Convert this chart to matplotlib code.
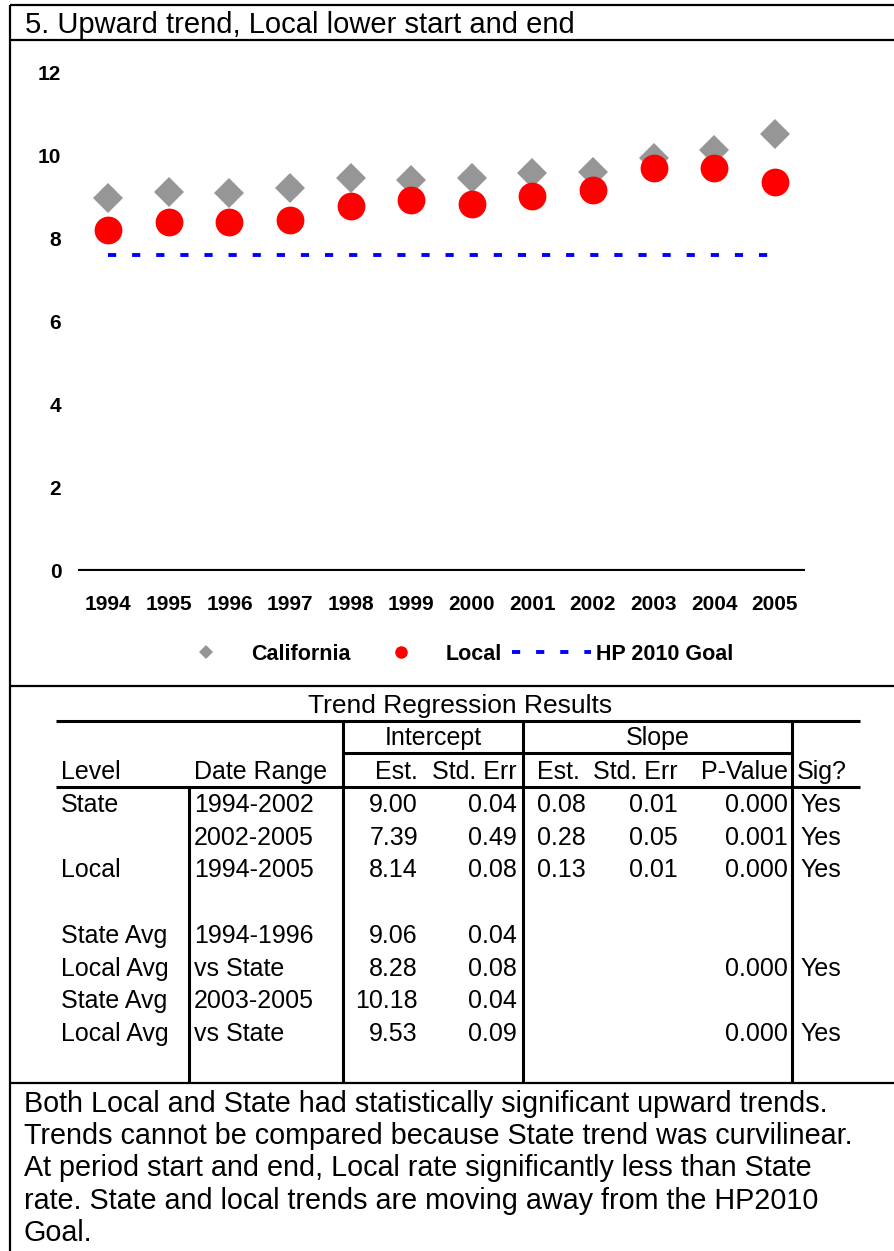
import matplotlib
matplotlib.use("Agg")
import matplotlib.pyplot as plt
from matplotlib.lines import Line2D

plt.rcParams['font.family'] = ['Liberation Sans', 'DejaVu Sans']

# chart data
years = ["1994", "1995", "1996", "1997", "1998", "1999",
         "2000", "2001", "2002", "2003", "2004", "2005"]
california = [8.97, 9.12, 9.08, 9.21, 9.46, 9.40, 9.46, 9.56, 9.60, 9.92, 10.12, 10.52]
local = [8.20, 8.40, 8.40, 8.44, 8.78, 8.92, 8.83, 9.01, 9.17, 9.70, 9.70, 9.36]
hp_goal = 7.6
y_ticks = [0, 2, 4, 6, 8, 10, 12]

# table data
level = ["State", "", "Local", "State Avg", "Local Avg", "State Avg", "Local Avg"]
date_range = ["1994-2002", "2002-2005", "1994-2005", "1994-1996", "vs State", "2003-2005", "vs State"]
int_est = ["9.00", "7.39", "8.14", "9.06", "8.28", "10.18", "9.53"]
int_se = ["0.04", "0.49", "0.08", "0.04", "0.08", "0.04", "0.09"]
slope_est = ["0.08", "0.28", "0.13", "", "", "", ""]
slope_se = ["0.01", "0.05", "0.01", "", "", "", ""]
p_value = ["0.000", "0.001", "0.000", "", "0.000", "", "0.000"]
sig = ["Yes", "Yes", "Yes", "", "Yes", "", "Yes"]

title = "5. Upward trend, Local lower start and end"
summary = ["Both Local and State had statistically significant upward trends.",
           "Trends cannot be compared because State trend was curvilinear.",
           "At period start and end, Local rate significantly less than State",
           "rate. State and local trends are moving away from the HP2010",
           "Goal."]

W, H = 895, 1251
fig = plt.figure(figsize=(W / 100, H / 100), dpi=100)


def fx(x):
    return x / W


def fy(y):
    return 1 - y / H


def hline(y, x0, x1, lw=2.2):
    fig.add_artist(Line2D([fx(x0), fx(x1)], [fy(y), fy(y)], color="black",
                          lw=lw, transform=fig.transFigure, solid_capstyle="butt"))


def vline(x, y0, y1, lw=2.2):
    fig.add_artist(Line2D([fx(x), fx(x)], [fy(y0), fy(y1)], color="black",
                          lw=lw, transform=fig.transFigure, solid_capstyle="butt"))


def text(x, y, s, size=18, ha="left", weight="normal"):
    fig.text(fx(x), fy(y), s, fontsize=size, ha=ha, va="baseline", fontweight=weight)


# frame and section separators
hline(5, 10, W, lw=1.6)
vline(10, 5, H, lw=1.6)
hline(40, 10, W, lw=1.6)
hline(686, 10, W, lw=1.6)
hline(1083, 10, W, lw=1.6)

text(25, 33, title, size=21)

# chart
ax = fig.add_axes([fx(78), fy(571), fx(805) - fx(78), fy(72) - fy(571)])
xs = list(range(len(years)))
ax.plot(xs, [hp_goal] * len(xs), color="#0000FF", lw=2.8, linestyle=(0, (2.1, 4.1)),
        label="HP 2010 Goal")
ax.plot(xs, california, linestyle="none", marker="D", markersize=15.3,
        color="#969696", mew=0, label="California")
ax.plot(xs, local, linestyle="none", marker="o", markersize=20,
        color="#FF0000", mew=0, label="Local")
ax.axhline(0, color="black", lw=3)
ax.set_xlim(-0.5, 11.5)
ax.set_ylim(0, 12)
ax.set_xticks(xs)
ax.set_xticklabels(years)
ax.set_yticks(y_ticks)
ax.tick_params(axis="both", length=0, labelsize=15)
ax.tick_params(axis="x", pad=17)
ax.tick_params(axis="y", pad=12)
for lab in ax.get_xticklabels() + ax.get_yticklabels():
    lab.set_fontweight("bold")
for sp in ax.spines.values():
    sp.set_visible(False)
ax.patch.set_visible(False)

handles = [
    Line2D([], [], linestyle="none", marker="D", markersize=7, color="#969696", mew=0),
    Line2D([], [], linestyle="none", marker="o", markersize=9, color="#FF0000", mew=0),
    Line2D([], [], color="#0000FF", lw=2.8, linestyle=(0, (2.1, 4.1))),
]
fig.legend(handles, ["California", "Local", "HP 2010 Goal"], ncol=3,
           loc="center", bbox_to_anchor=(fx(450), fy(654)), frameon=False,
           prop={"size": 15.5, "weight": "bold"}, handlelength=3.7,
           handletextpad=0.23, columnspacing=0.47, borderpad=0)

# table
text(460, 713, "Trend Regression Results", size=19, ha="center")
hline(721, 56, 860)
hline(753, 343, 792)
hline(787, 56, 860)
for x in [343, 523, 792]:
    vline(x, 722, 1083)
vline(189, 787, 1083)

text(433, 745, "Intercept", ha="center")
text(658, 745, "Slope", ha="center")
text(61, 779, "Level")
text(194, 779, "Date Range")
text(418, 779, "Est.", ha="right")
text(517, 779, "Std. Err", ha="right")
text(537, 779, "Est.")
text(678, 779, "Std. Err", ha="right")
text(788, 779, "P-Value", ha="right")
text(797, 779, "Sig?")

row_y = [812, 845, 877, 943, 976, 1008, 1041]
for i, y in enumerate(row_y):
    text(61, y, level[i])
    text(194, y, date_range[i])
    text(418, y, int_est[i], ha="right")
    text(517, y, int_se[i], ha="right")
    text(537, y, slope_est[i])
    text(678, y, slope_se[i], ha="right")
    text(788, y, p_value[i], ha="right")
    text(800, y, sig[i])

# summary text
for i, line in enumerate(summary):
    text(24, 1112 + 32.2 * i, line, size=20.7)

fig.savefig("out.png", dpi=100)
